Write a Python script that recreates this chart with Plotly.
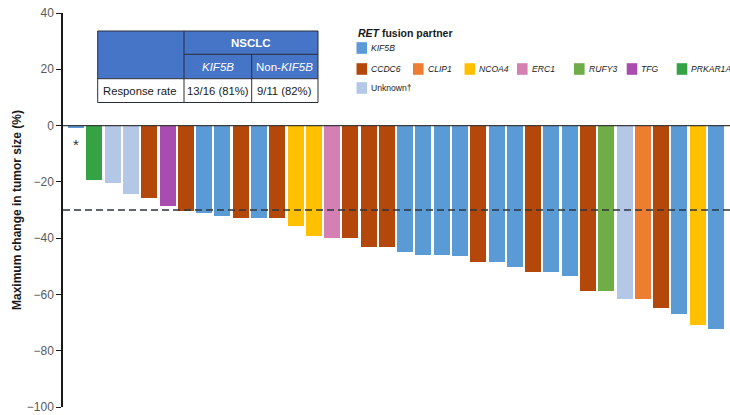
import plotly.graph_objects as go

# ---- data -------------------------------------------------------------
partners = [
    "KIF5B", "PRKAR1A", "Unknown", "Unknown", "CCDC6", "TFG", "CCDC6", "KIF5B",
    "KIF5B", "CCDC6", "KIF5B", "CCDC6", "NCOA4", "NCOA4", "ERC1", "CCDC6",
    "CCDC6", "CCDC6", "KIF5B", "KIF5B", "KIF5B", "KIF5B", "CCDC6", "KIF5B",
    "KIF5B", "CCDC6", "KIF5B", "KIF5B", "CCDC6", "RUFY3", "Unknown", "CLIP1",
    "CCDC6", "KIF5B", "NCOA4", "KIF5B",
]
changes = [
    -0.7, -19.2, -20.3, -24.2, -25.9, -28.5, -30.3, -31.1,
    -32.1, -32.7, -32.9, -32.8, -35.8, -39.1, -39.8, -39.9,
    -43.0, -43.0, -44.9, -45.9, -45.9, -46.4, -48.5, -48.5,
    -50.3, -52.2, -52.2, -53.5, -58.8, -58.9, -61.7, -61.8,
    -64.9, -67.1, -71.0, -72.3,
]
response_threshold = -30
y_ticks = [40, 20, 0, -20, -40, -60, -80, -100]

table_group = "NSCLC"
table_columns = ["<i>KIF5B</i>", "Non-<i>KIF5B</i>"]
table_row_label = "Response rate"
table_values = ["13/16 (81%)", "9/11 (82%)"]

legend_title = "<b><i>RET</i> fusion partner</b>"
legend_rows = [["KIF5B"], ["CCDC6", "CLIP1", "NCOA4", "ERC1", "RUFY3", "TFG", "PRKAR1A"], ["Unknown"]]
legend_labels = {"Unknown": "Unknown†"}

colors = {
    "KIF5B": "#5B9BD5",
    "CCDC6": "#B3480A",
    "CLIP1": "#ED7D31",
    "NCOA4": "#FFC000",
    "ERC1": "#D580B2",
    "RUFY3": "#70AD47",
    "TFG": "#A84CB0",
    "PRKAR1A": "#35A344",
    "Unknown": "#B4C7E7",
}

# ---- geometry helpers (pixel -> paper) ---------------------------------
W, H = 730, 415
ML, MR, MT, MB = 63, 0, 13, 8
PW, PH = W - ML - MR, H - MT - MB


def px(x):
    return (x - ML) / PW


def py(y):
    return (H - MB - y) / PH


FONT = "Liberation Sans, Arial, sans-serif"


def note(x, y, text, size, color="#1A1A1A", xanchor="center", **kw):
    return dict(x=x, y=y, xref="paper", yref="paper", text=text, showarrow=False,
                xanchor=xanchor, yanchor="middle",
                font=dict(family=FONT, size=size, color=color), **kw)


fig = go.Figure()
fig.add_trace(go.Bar(
    x=list(range(len(changes))),
    y=changes,
    width=0.876,
    marker=dict(color=[colors[p] for p in partners], line=dict(width=0)),
    showlegend=False,
    hoverinfo="y",
))

shapes = []
annotations = []

# response threshold and zero line
shapes.append(dict(type="line", xref="paper", yref="y", x0=0, x1=1,
                   y0=response_threshold, y1=response_threshold,
                   line=dict(color="#2B3440", width=1.4, dash="7px,4px"), layer="above"))
shapes.append(dict(type="line", xref="paper", yref="y", x0=0, x1=1, y0=0, y1=0,
                   line=dict(color="#3A3A3A", width=1.3), layer="above"))

# asterisk under the first bar
annotations.append(dict(x=0, y=-6.8, xref="x", yref="y", text="*", showarrow=False,
                        xanchor="center", yanchor="middle",
                        font=dict(family=FONT, size=15, color="#333333")))

# ---- response-rate table --------------------------------------------
tx0, tx1, tx2, tx3 = 97.7, 184, 251.7, 318
ty0, ty1, ty2, ty3 = 31, 54.3, 78.7, 102.5
blue = "#4674C6"
border = "#2A2F3A"
shapes.append(dict(type="rect", xref="paper", yref="paper",
                   x0=px(tx0), x1=px(tx3), y0=py(ty2), y1=py(ty0),
                   fillcolor=blue, line=dict(width=0), layer="above"))
shapes.append(dict(type="rect", xref="paper", yref="paper",
                   x0=px(tx0), x1=px(tx3), y0=py(ty3), y1=py(ty2),
                   fillcolor="white", line=dict(width=0), layer="above"))
for (a, b, c, d) in [
    (tx0, ty0, tx3, ty0), (tx0, ty3, tx3, ty3), (tx0, ty0, tx0, ty3), (tx3, ty0, tx3, ty3),
    (tx0, ty2, tx3, ty2), (tx1, ty1, tx3, ty1), (tx1, ty0, tx1, ty3), (tx2, ty1, tx2, ty3),
]:
    shapes.append(dict(type="line", xref="paper", yref="paper",
                       x0=px(a), x1=px(c), y0=py(b), y1=py(d),
                       line=dict(color=border, width=1), layer="above"))

annotations.append(note(px((tx1 + tx3) / 2), py((ty0 + ty1) / 2),
                        "<b>" + table_group + "</b>", 11.5, color="white"))
col_centers = [(tx1 + tx2) / 2, (tx2 + tx3) / 2]
for cx, label, val in zip(col_centers, table_columns, table_values):
    annotations.append(note(px(cx), py((ty1 + ty2) / 2), label, 11.5, color="white"))
    annotations.append(note(px(cx), py((ty2 + ty3) / 2), val, 11.3))
annotations.append(note(px(101), py((ty2 + ty3) / 2), table_row_label, 11.3, xanchor="left"))

# ---- legend ------------------------------------------------------------
annotations.append(note(px(356), py(33), legend_title, 10.5, xanchor="left"))
row_y = [48, 69, 88]
row_x = [[356.5], [356.5, 413, 464.5, 517, 574, 626.7, 676.7], [356.5]]
for names, xs, yc in zip(legend_rows, row_x, row_y):
    for name, x0 in zip(names, xs):
        shapes.append(dict(type="rect", xref="paper", yref="paper",
                           x0=px(x0), x1=px(x0 + 10.6), y0=py(yc + 5.8), y1=py(yc - 5.8),
                           fillcolor=colors[name], line=dict(width=0), layer="above"))
        label = legend_labels.get(name, "<i>" + name + "</i>")
        annotations.append(note(px(x0 + 12.5), py(yc), label, 8.6, xanchor="left"))

# y-axis title
annotations.append(note(px(17), 0.5, "<b>Maximum change in tumor size (%)</b>", 12,
                        textangle=-90))

fig.update_layout(
    width=W, height=H,
    margin=dict(l=ML, r=MR, t=MT, b=MB, pad=0),
    paper_bgcolor="white", plot_bgcolor="white",
    shapes=shapes, annotations=annotations,
    bargap=0,
    xaxis=dict(range=[-0.72, 35.77], showticklabels=False, showgrid=False,
               zeroline=False, showline=False, ticks=""),
    yaxis=dict(range=[-100, 40], tickvals=y_ticks, showgrid=False, zeroline=False,
               showline=True, linecolor="#1A1A1A", linewidth=1.5,
               ticks="outside", ticklen=5, tickcolor="#1A1A1A", tickwidth=1,
               tickfont=dict(family=FONT, size=12, color="#5A5A5A")),
)

fig.write_html("out.html")
